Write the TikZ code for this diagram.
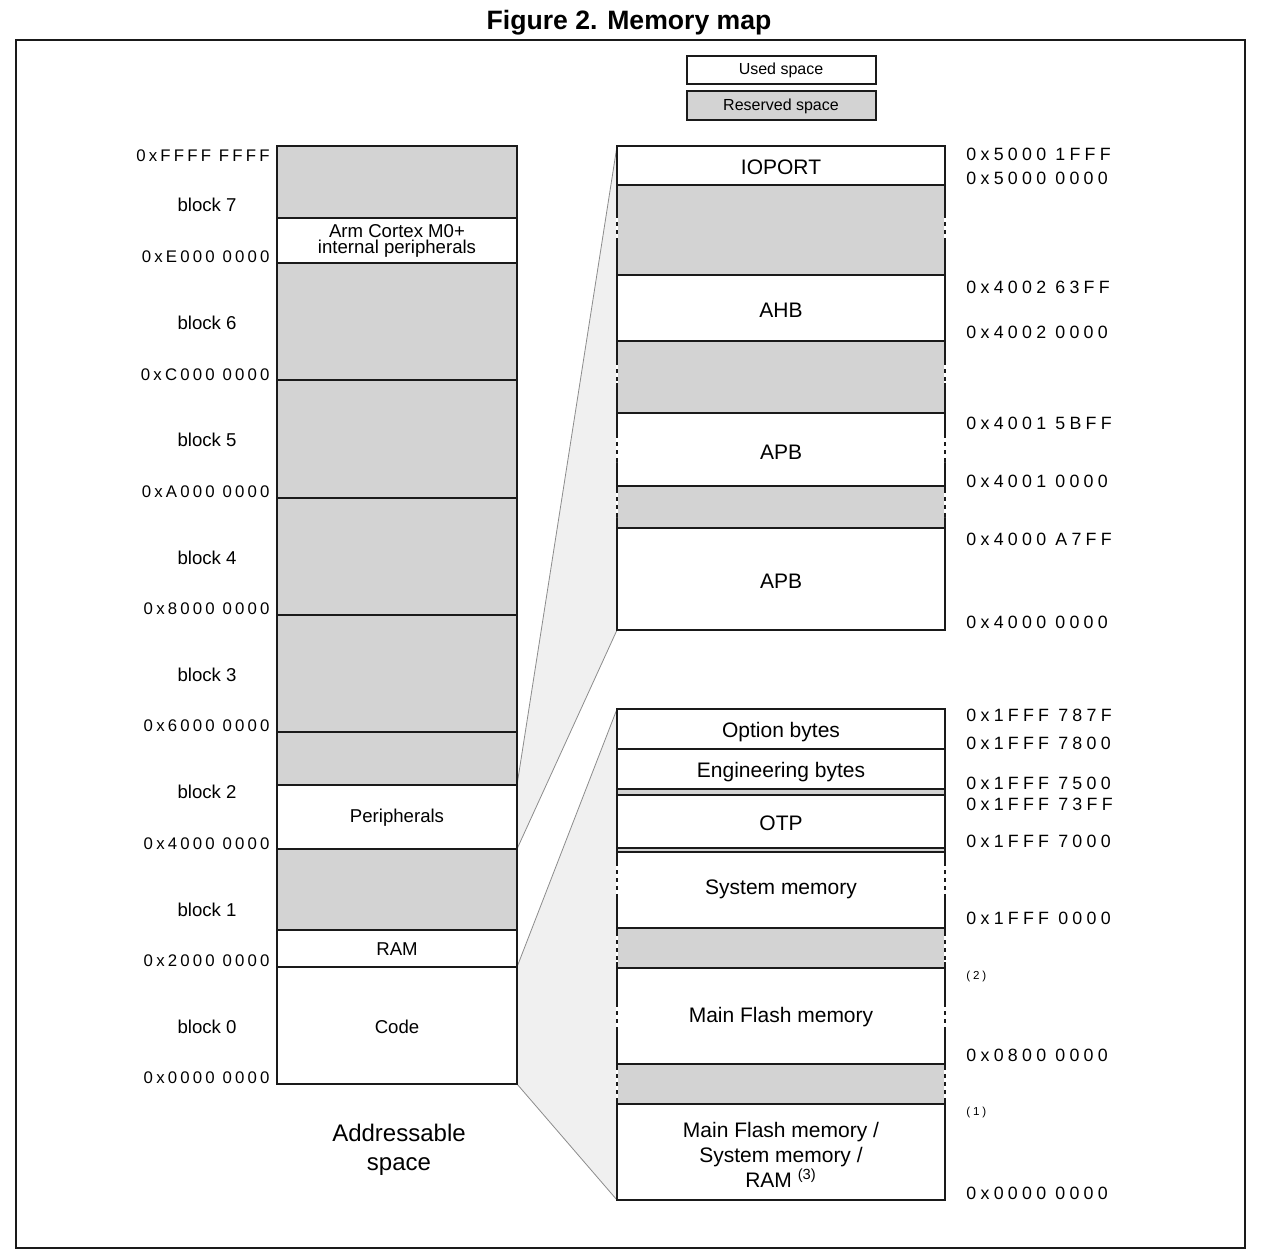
\documentclass[tikz,border=0pt]{standalone}
\usepackage{fontspec}
\setmainfont{Liberation Sans}
\newfontfamily\laddrfont[LetterSpace=19]{Liberation Sans}
\newfontfamily\raddrfont[LetterSpace=24]{Liberation Sans}
\definecolor{resgray}{HTML}{D3D3D3}
\definecolor{zoomgray}{HTML}{F0F0F0}
\definecolor{zoomline}{HTML}{8C8C8C}
\definecolor{frame}{HTML}{1A1A1A}

\begin{document}
\begin{tikzpicture}[x=0.5pt, y=-0.5pt,
    used/.style={draw=frame, fill=white, line width=0.6pt},
    reserved/.style={draw=frame, fill=resgray, line width=0.6pt},
    brk/.style={draw=white, line width=0.8pt, dash pattern=on 2pt off 2pt},
    lbl/.style={font=\fontsize{9.3}{8}\selectfont, align=center, inner sep=0pt},
    rlbl/.style={font=\fontsize{10.5}{12.5}\selectfont, align=center, inner sep=0pt},
    laddr/.style={font=\laddrfont\fontsize{8.4}{9}\selectfont, anchor=east, inner sep=0pt},
    raddr/.style={font=\raddrfont\fontsize{8.9}{10}\selectfont, anchor=west, inner sep=0pt},
    note/.style={font=\raddrfont\fontsize{5.8}{6}\selectfont, anchor=west, inner sep=0pt}]
  \useasboundingbox (0,0) rectangle (1262,1258);

  % Frame and title
  \draw[frame, line width=0.8pt] (16,40) rectangle (1245,1248);
  \node[font=\fontsize{13.3}{15}\selectfont\bfseries] (title) at (629,23) {Figure 2. Memory map};

  % Legend
  \draw[used] (687,56) rectangle (876,84);
  \node[font=\fontsize{8}{9}\selectfont] (legused) at (781,70) {Used space};
  \draw[reserved] (687,91) rectangle (876,120);
  \node[font=\fontsize{8}{9}\selectfont] (legres) at (781,106) {Reserved space};

  % Zoom corners
  \coordinate (perNE) at (517,785);
  \coordinate (perSE) at (517,849);
  \coordinate (codeNE) at (517,967);
  \coordinate (codeSE) at (517,1084);
  \coordinate (ioNW) at (617,146);
  \coordinate (apbSW) at (617,630);
  \coordinate (optNW) at (617,709);
  \coordinate (bootSW) at (617,1200);

  % Zoom areas
  \fill[zoomgray] (perNE) -- (ioNW) -- (apbSW) -- (perSE) -- cycle;
  \draw[zoomline, line width=0.4pt] (perNE) -- (ioNW);
  \draw[zoomline, line width=0.4pt] (perSE) -- (apbSW);
  \fill[zoomgray] (codeNE) -- (optNW) -- (bootSW) -- (codeSE) -- cycle;
  \draw[zoomline, line width=0.4pt] (codeNE) -- (optNW);
  \draw[zoomline, line width=0.4pt] (codeSE) -- (bootSW);

  % Addressable space
  \draw[reserved] (277,146) rectangle (517,218);
  \draw[used] (277,218) rectangle (517,263);
  \node[lbl] (cortex) at (397,241) {Arm Cortex M0+\\internal peripherals};
  \draw[reserved] (277,263) rectangle (517,380);
  \draw[reserved] (277,380) rectangle (517,498);
  \draw[reserved] (277,498) rectangle (517,615);
  \draw[reserved] (277,615) rectangle (517,732);
  \draw[reserved] (277,732) rectangle (517,785);
  \draw[used] (277,785) rectangle (517,849);
  \node[lbl] (periph) at (397,818) {Peripherals};
  \draw[reserved] (277,849) rectangle (517,930);
  \draw[used] (277,930) rectangle (517,967);
  \node[lbl] (ram) at (397,949) {RAM};
  \draw[used] (277,967) rectangle (517,1084);
  \node[lbl] (code) at (397,1027) {Code};

  \node[laddr] (aF) at (270,156) {0xFFFF FFFF};
  \node[laddr] (aE) at (270,257) {0xE000 0000};
  \node[laddr] (aC) at (270,375) {0xC000 0000};
  \node[laddr] (aA) at (270,492) {0xA000 0000};
  \node[laddr] (a8) at (270,609) {0x8000 0000};
  \node[laddr] (a6) at (270,726) {0x6000 0000};
  \node[laddr] (a4) at (270,844) {0x4000 0000};
  \node[laddr] (a2) at (270,961) {0x2000 0000};
  \node[laddr] (a0) at (270,1078) {0x0000 0000};

  \node[lbl] (blk7) at (207,205) {block 7};
  \node[lbl] (blk6) at (207,323) {block 6};
  \node[lbl] (blk5) at (207,440) {block 5};
  \node[lbl] (blk4) at (207,558) {block 4};
  \node[lbl] (blk3) at (207,675) {block 3};
  \node[lbl] (blk2) at (207,792) {block 2};
  \node[lbl] (blk1) at (207,910) {block 1};
  \node[lbl] (blk0) at (207,1027) {block 0};

  \node[font=\fontsize{12}{14.5}\selectfont, align=center] (addrsp) at (399,1150) {Addressable\\space};

  % Peripheral area
  \draw[used] (617,146) rectangle (945,185);
  \node[rlbl] (ioport) at (781,167) {IOPORT};
  \draw[reserved] (617,185) rectangle (945,275);
  \draw[used] (617,275) rectangle (945,341);
  \node[rlbl] (ahb) at (781,310) {AHB};
  \draw[reserved] (617,341) rectangle (945,413);
  \draw[used] (617,413) rectangle (945,486);
  \node[rlbl] (apbtwo) at (781,452) {APB};
  \draw[reserved] (617,486) rectangle (945,528);
  \draw[used] (617,528) rectangle (945,630);
  \node[rlbl] (apbone) at (781,581) {APB};

  % broken edges
  \draw[brk] (617,218) -- (617,240) (945,218) -- (945,240);
  \draw[brk] (617,365) -- (617,383) (945,365) -- (945,383);
  \draw[brk] (617,438) -- (617,462) (945,438) -- (945,462);
  \draw[brk] (617,493) -- (617,517) (945,493) -- (945,517);

  \node[raddr] (r1) at (966,154) {0x5000 1FFF};
  \node[raddr] (r2) at (966,178) {0x5000 0000};
  \node[raddr] (r3) at (966,287) {0x4002 63FF};
  \node[raddr] (r4) at (966,332) {0x4002 0000};
  \node[raddr] (r5) at (966,423) {0x4001 5BFF};
  \node[raddr] (r6) at (966,481) {0x4001 0000};
  \node[raddr] (r7) at (966,539) {0x4000 A7FF};
  \node[raddr] (r8) at (966,622) {0x4000 0000};

  % Code area
  \draw[used] (617,709) rectangle (945,749);
  \node[rlbl] (optb) at (781,732) {Option bytes};
  \draw[used] (617,749) rectangle (945,789);
  \node[rlbl] (engb) at (781,772) {Engineering bytes};
  \draw[reserved] (617,789) rectangle (945,795);
  \draw[used] (617,795) rectangle (945,848);
  \node[rlbl] (otp) at (781,823) {OTP};
  \draw[reserved] (617,848) rectangle (945,852);
  \draw[used] (617,852) rectangle (945,928);
  \node[rlbl] (sysmem) at (781,889) {System memory};
  \draw[reserved] (617,928) rectangle (945,968);
  \draw[used] (617,968) rectangle (945,1064);
  \node[rlbl] (flash) at (781,1017) {Main Flash memory};
  \draw[reserved] (617,1064) rectangle (945,1104);
  \draw[used] (617,1104) rectangle (945,1200);
  \node[rlbl] (boot) at (781,1155) {Main Flash memory /\\System memory /\\RAM \textsuperscript{(3)}};

  % broken edges
  \draw[brk] (617,866) -- (617,897) (945,866) -- (945,897);
  \draw[brk] (617,936) -- (617,962) (945,936) -- (945,962);
  \draw[brk] (617,1007) -- (617,1029) (945,1007) -- (945,1029);
  \draw[brk] (617,1070) -- (617,1100) (945,1070) -- (945,1100);

  \node[raddr] (s1) at (966,715) {0x1FFF 787F};
  \node[raddr] (s2) at (966,743) {0x1FFF 7800};
  \node[raddr] (s3) at (966,783) {0x1FFF 7500};
  \node[raddr] (s4) at (966,804) {0x1FFF 73FF};
  \node[raddr] (s5) at (966,841) {0x1FFF 7000};
  \node[raddr] (s6) at (966,918) {0x1FFF 0000};
  \node[note] (n2) at (966,976) {(2)};
  \node[raddr] (s7) at (966,1055) {0x0800 0000};
  \node[note] (n1) at (966,1112) {(1)};
  \node[raddr] (s8) at (966,1193) {0x0000 0000};
\end{tikzpicture}
\end{document}
